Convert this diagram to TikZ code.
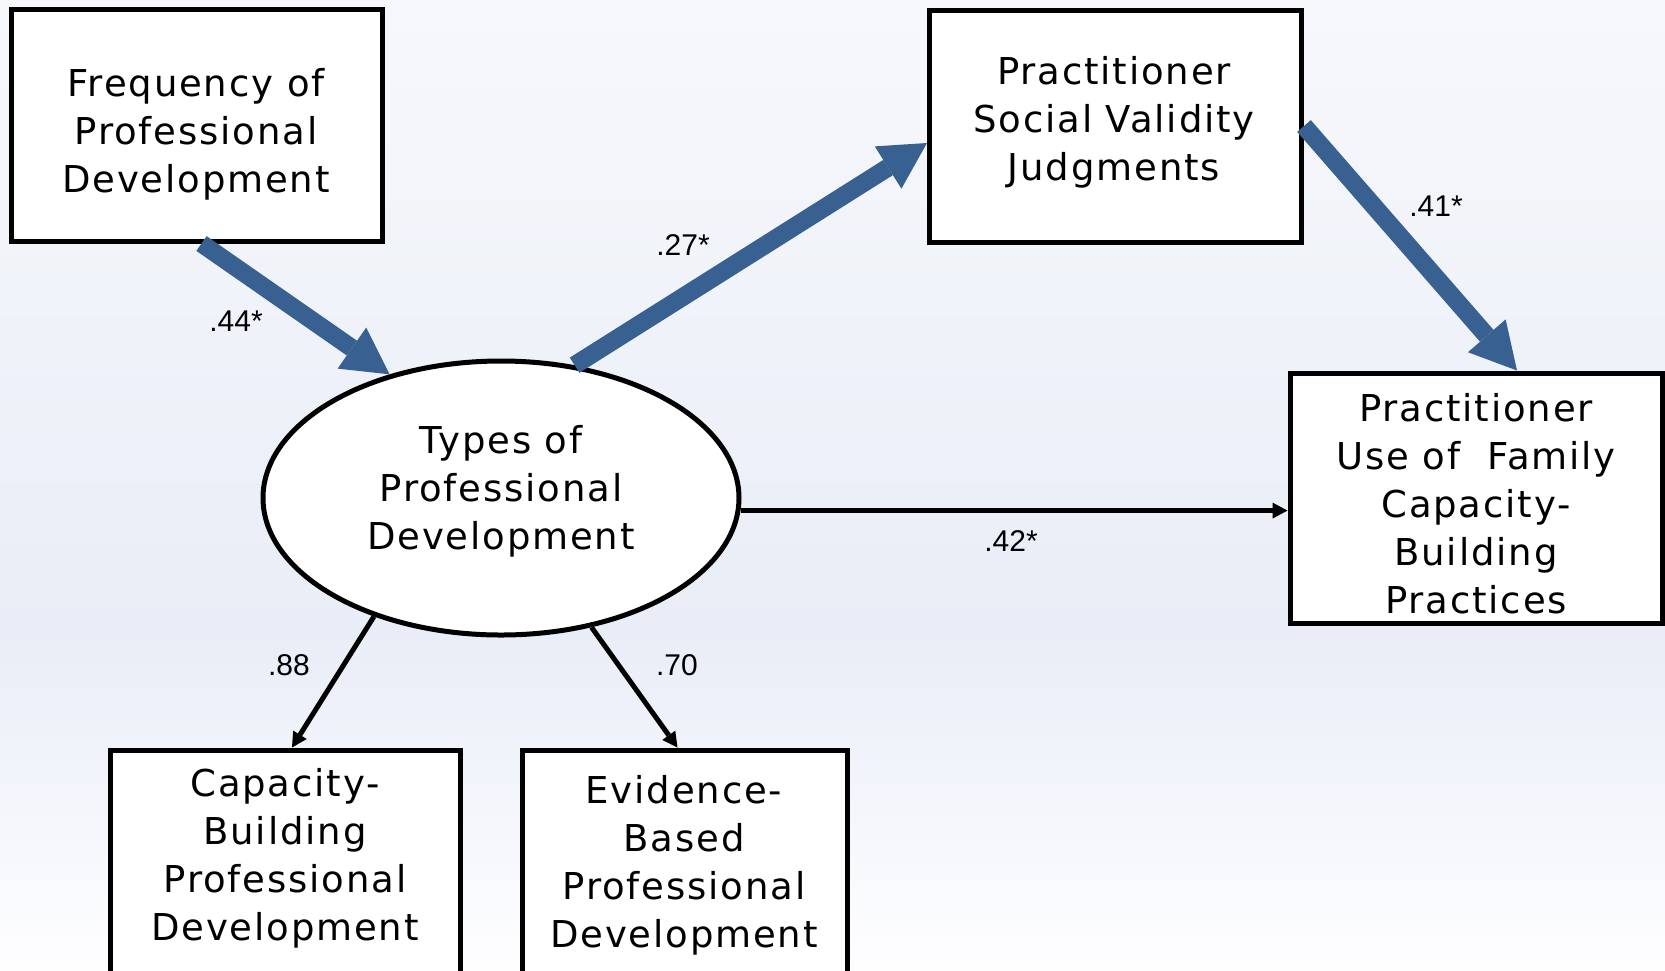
\documentclass[tikz,border=0pt]{standalone}
\usepackage{fontspec}
\usetikzlibrary{shapes.geometric,arrows.meta}
\newfontfamily\boxfont[LetterSpace=5]{DejaVu Sans}
\newfontfamily\coeffont{Liberation Sans}
\definecolor{pathblue}{HTML}{386191}
\definecolor{bgtop}{HTML}{F7F8FB}
\definecolor{bgmid}{HTML}{E8EDF7}
\definecolor{bgbot}{HTML}{FEFEFF}

\begin{document}
\begin{tikzpicture}[x=1pt,y=-1pt,
  box/.style={draw=black,line width=5pt,fill=white,rectangle,inner sep=0pt},
  latent/.style={draw=black,line width=5pt,fill=white,ellipse,inner sep=0pt},
  boxtext/.style={font=\boxfont\fontsize{37}{48}\selectfont,align=center,inner sep=0pt},
  coef/.style={font=\coeffont\fontsize{30}{34}\selectfont,inner sep=0pt},
  patharrow/.style={draw=pathblue,line width=18pt,
    -{Triangle[length=46pt,width=50pt,line width=0pt]}},
  loadarrow/.style={draw=black,line width=5pt,
    -{Triangle[length=15pt,width=16pt,line width=0pt]}}
]
\useasboundingbox (0,0) rectangle (1665,970);
\clip (0,0) rectangle (1665,970);

% background gradient
\shade[top color=bgtop,bottom color=bgmid] (0,0) rectangle (1665,631);
\shade[top color=bgmid,bottom color=bgbot] (0,630) rectangle (1665,970);

% observed variables
\node[box,minimum width=371pt,minimum height=232pt] (freq) at (196.5,125) {};
\node[boxtext] (freqtxt) at (196,134) {Frequency of\\Professional\\Development};

\node[box,minimum width=372pt,minimum height=232pt] (psv) at (1115.5,126) {};
\node[boxtext] (psvtxt) at (1114,122) {Practitioner\\Social Validity\\Judgments};

\node[box,minimum width=372pt,minimum height=250pt] (pu) at (1476,498) {};
\node[boxtext] (putxt) at (1476,504) {Practitioner\\Use of~ Family\\Capacity-\\Building\\Practices};

\node[box,minimum width=350pt,minimum height=240pt] (cb) at (285,870) {};
\node[boxtext] (cbtxt) at (285,858.5) {Capacity-\\Building\\Professional\\Development};

\node[box,minimum width=325pt,minimum height=240pt] (eb) at (684.5,870) {};
\node[boxtext] (ebtxt) at (684,865) {Evidence-\\Based\\Professional\\Development};

% latent variable
\node[latent,minimum width=476pt,minimum height=274pt] (ty) at (501,498) {};
\node[boxtext] (tytxt) at (501,491) {Types of\\Professional\\Development};

% structural paths
\draw[patharrow] ([xshift=5pt]freq.south) -- (ty.132);
\draw[patharrow] (ty.61) -- ([yshift=-17pt]psv.west);
\draw[patharrow] (psv.east) -- ([xshift=41pt]pu.north);
\draw[loadarrow] (ty.-3) -- (ty.-3 -| pu.west);

% factor loadings
\draw[loadarrow] (ty.223) -- ([xshift=7pt]cb.north);
\draw[loadarrow] (ty.-55) -- ([xshift=-7pt]eb.north);

% coefficients
\node[coef] (c44) at (236,321) {.44*};
\node[coef] (c27) at (683,245) {.27*};
\node[coef] (c41) at (1436,206) {.41*};
\node[coef] (c42) at (1011,541) {.42*};
\node[coef] (c88) at (289,665) {.88};
\node[coef] (c70) at (677,665) {.70};
\end{tikzpicture}
\end{document}
